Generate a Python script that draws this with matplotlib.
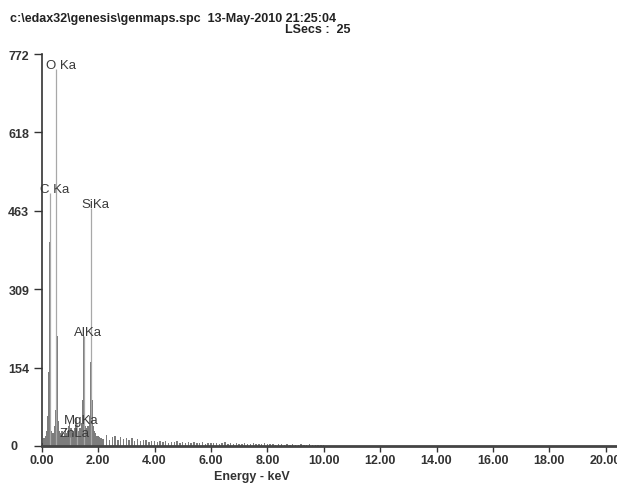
import matplotlib
matplotlib.use("Agg")
import matplotlib.pyplot as plt
import matplotlib.transforms as mtransforms

plt.rcParams['font.family'] = ['Liberation Sans', 'DejaVu Sans']

# canales de baja energía (keV) y cuentas
energia_baja = [0.00, 0.04, 0.08, 0.12, 0.16, 0.20, 0.24, 0.28, 0.32, 0.36,
                0.40, 0.44, 0.48, 0.52, 0.56, 0.60, 0.64, 0.68, 0.72, 0.76,
                0.80, 0.84, 0.88, 0.92, 0.96, 1.00, 1.04, 1.08, 1.12, 1.16,
                1.20, 1.24, 1.28, 1.32, 1.36, 1.40, 1.44, 1.48, 1.52, 1.56,
                1.60, 1.64, 1.68, 1.72, 1.76, 1.80, 1.84, 1.88, 1.92, 1.96,
                2.00, 2.04, 2.08, 2.12, 2.16]
cuentas_baja = [0, 5, 15, 20, 30, 60, 146, 401, 60, 30,
                25, 40, 70, 345, 217, 50, 30, 25, 30, 20,
                25, 35, 25, 30, 40, 45, 35, 25, 30, 35,
                45, 55, 40, 30, 35, 45, 90, 217, 60, 40,
                35, 40, 60, 165, 427, 90, 40, 30, 25, 20,
                20, 18, 16, 15, 14]

# fondo 2.2 - 10.0 keV cada 0.1 keV
energia_fondo = [2.2 + 0.1 * i for i in range(79)]
cuentas_fondo = [14, 22, 12, 18, 20, 11, 17, 13, 16,
                 12, 15, 10, 13, 9, 12, 11, 8, 10, 9,
                 8, 10, 7, 9, 6, 8, 7, 9, 6, 7,
                 6, 8, 5, 7, 6, 5, 7, 4, 6, 5,
                 5, 6, 4, 5, 7, 4, 5, 3, 5, 4,
                 4, 5, 3, 4, 6, 3, 4, 3, 5, 3,
                 3, 4, 2, 3, 4, 2, 3, 2, 3, 2,
                 2, 3, 2, 2, 3, 1, 2, 2, 1, 2]

# picos identificados
picos = ['O Ka', 'C Ka', 'SiKa', 'AlKa', 'MgKa', 'ZnLa']
pico_energia = [0.52, 0.295, 1.76, 1.49, 1.25, 1.01]
pico_altura = [742, 498, 468, 217, 43, 18]

y_ticks = [0, 154, 309, 463, 618, 772]
x_ticks = [0, 2, 4, 6, 8, 10, 12, 14, 16, 18, 20]

fig = plt.figure(figsize=(6.17, 4.85), dpi=100)
ax = fig.add_axes([0.0676, 0.0784, 0.9324, 0.808])

gris = '#7c7c7c'
ax.bar(energia_baja, cuentas_baja, width=0.04, color=gris, linewidth=0)
ax.bar(energia_fondo, cuentas_fondo, width=0.05, color=gris, linewidth=0)

# líneas marcadoras de picos y etiquetas
ax.vlines(pico_energia, 0, pico_altura, color='#a8a8a8', linewidth=0.9)
for nombre, e, h in zip(picos, pico_energia, pico_altura):
    ax.annotate(nombre, (e, h), xytext=(3, 3), textcoords='offset points',
                ha='center', va='center', fontsize=9.5, color='#3a3a3a')

ax.set_xlim(0, 20.4)
ax.set_ylim(0, 772)

for s in ['top', 'right']:
    ax.spines[s].set_visible(False)
ax.spines['left'].set_color('#333333')
ax.spines['left'].set_linewidth(1.2)
ax.spines['bottom'].set_color('#444444')
ax.spines['bottom'].set_linewidth(2)

ax.set_yticks(y_ticks)
ax.set_yticklabels([''] + [str(v) for v in y_ticks[1:]])
ax.set_xticks(x_ticks)
ax.set_xticklabels(['%.2f' % v for v in x_ticks])
ax.tick_params(axis='y', length=6, width=1, pad=3, colors='#333333',
               labelsize=9)
ax.tick_params(axis='x', length=4, width=1, pad=2, colors='#333333',
               labelsize=9)
for t in ax.get_xticklabels() + ax.get_yticklabels():
    t.set_fontweight('bold')

trans = mtransforms.blended_transform_factory(ax.transAxes, ax.transData)
ax.text(-0.055, 0, '0', transform=trans, ha='left', va='center',
        fontsize=9, fontweight='bold', color='#333333')

ax.set_xlabel('Energy - keV', fontsize=9, fontweight='bold', color='#333333')
ax.xaxis.set_label_coords(0.366, -0.062)

fig.text(10 / 617, 1 - 19 / 485, 'c:\\edax32\\genesis\\genmaps.spc  13-May-2010 21:25:04',
         ha='left', va='center', fontsize=9, fontweight='bold', color='#222222')
fig.text(285 / 617, 1 - 30 / 485, 'LSecs :  25',
         ha='left', va='center', fontsize=9, fontweight='bold', color='#222222')

fig.savefig('out.png', dpi=100)
